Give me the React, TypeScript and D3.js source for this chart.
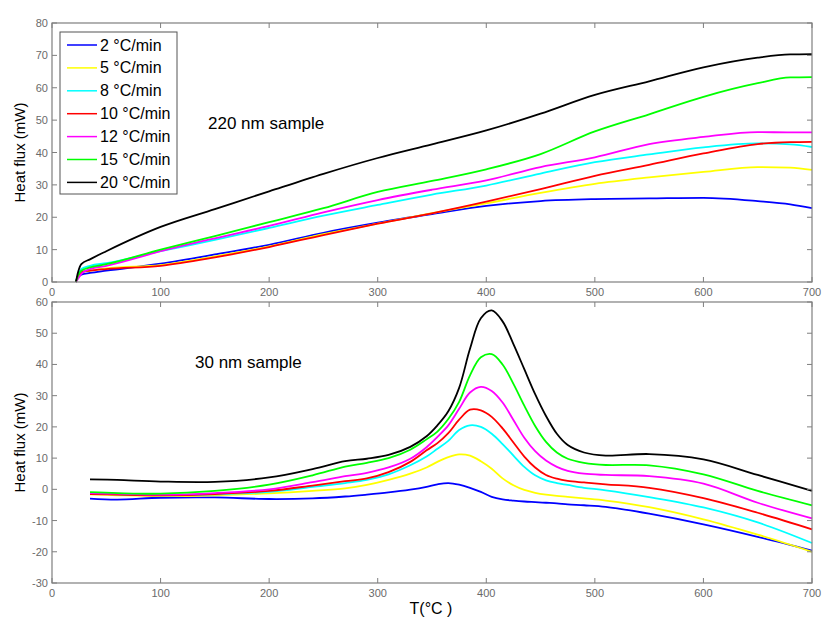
import React from "react";
import * as d3 from "d3";

// ---------- data ----------
const rateLabels = ["2 °C/min", "5 °C/min", "8 °C/min", "10 °C/min", "12 °C/min", "15 °C/min", "20 °C/min"];
const seriesColors = ["#0000ff", "#ffff00", "#00ffff", "#ff0000", "#ff00ff", "#00ff00", "#000000"];

const xTicks = [0, 100, 200, 300, 400, 500, 600, 700];
const yTicksTop = [0, 10, 20, 30, 40, 50, 60, 70, 80];
const yTicksBottom = [-30, -20, -10, 0, 10, 20, 30, 40, 50, 60];

// 220 nm sample
const tempTop = [22, 24, 27, 35, 50, 100, 150, 200, 250, 300, 350, 400, 450, 500, 550, 600, 650, 680, 700];
const top2 = [0, 1.5, 2.3, 2.8, 3.5, 5.7, 8.5, 11.5, 15.2, 18.3, 21, 23.5, 25, 25.6, 25.8, 26, 25, 24, 22.8];
const top5 = [0, 1.5, 3, 3.5, 4.2, 5.2, 7.9, 11, 14.8, 18, 21.3, 24.3, 27.5, 30.3, 32.3, 34, 35.5, 35.3, 34.6];
const top8 = [0, 2, 4, 5, 5.8, 9.5, 13, 16.7, 20.5, 23.8, 27, 29.8, 33.5, 37, 39.4, 41.6, 42.8, 42.5, 41.7];
const top10 = [0, 1.5, 3, 3.5, 4, 5, 7.6, 10.8, 14.5, 18, 21.2, 24.8, 28.7, 32.8, 36.2, 39.7, 42.6, 43.2, 43.3];
const top12 = [0, 1, 2.5, 4, 5, 9.5, 13.5, 17.3, 21.5, 25.3, 28.5, 31.4, 35.5, 38.5, 42.6, 44.8, 46.3, 46.2, 46.2];
const top15 = [0, 2, 3.5, 4.5, 5.5, 10, 14.2, 18.5, 22.8, 27.8, 31.2, 34.8, 39.5, 46.5, 51.8, 57.2, 61.4, 63.2, 63.3];
const top20 = [0, 3, 5.5, 7, 9.5, 17, 22.5, 28, 33.4, 38.3, 42.5, 46.8, 52, 57.8, 62, 66.3, 69.3, 70.3, 70.4];

// 30 nm sample
const tempBottom = [35, 60, 100, 150, 200, 240, 270, 290, 310, 330, 345, 355, 365, 375, 385, 395, 405, 415, 425, 435, 445, 455, 465, 475, 490, 510, 550, 600, 650, 700];
const bot2 = [-3, -3.3, -2.7, -2.6, -3.1, -2.9, -2.3, -1.7, -1, -0.1, 0.8, 1.6, 2, 1.5, 0.5, -0.8, -2.4, -3.2, -3.6, -3.9, -4.1, -4.3, -4.5, -4.8, -5.1, -5.6, -7.8, -11.2, -15.2, -19.6];
const bot5 = [-1.6, -1.9, -2.2, -1.9, -1.3, -0.5, 0.3, 1.4, 3, 5, 7, 8.8, 10.3, 11.2, 10.8, 9, 6.6, 3.5, 1.3, -0.2, -1.1, -1.7, -2.1, -2.4, -2.9, -3.6, -5.7, -9.6, -14.5, -20];
const bot8 = [-1.4, -1.6, -1.9, -1.6, -0.8, 0.8, 2, 3, 4.8, 7.7, 10.5, 13, 15.5, 19, 20.5, 20, 17.8, 14.5, 10.8, 7.2, 4.5, 2.9, 2, 1.4, 0.5, -0.3, -2.5, -5.8, -10.6, -17.2];
const bot10 = [-1.5, -1.7, -1.9, -1.5, -0.5, 1.2, 2.6, 3.5, 5.5, 8.8, 12.5, 14.8, 18, 22.3, 25.5, 25.3, 23.2, 19.5, 15, 10.5, 7, 4.6, 3.4, 2.7, 2.2, 1.6, 0.5, -2.8, -7.5, -12.8];
const bot12 = [-1.2, -1.4, -1.7, -1.2, 0, 2.3, 4.2, 5.3, 7, 9.8, 13.5, 16.8, 20.5, 25.8, 31, 32.8, 31.5, 27.8, 22.2, 16.5, 12.2, 9.2, 7.2, 5.9, 5, 4.6, 4.2, 1.8, -4.3, -9.3];
const bot15 = [-0.9, -1.2, -1.4, -0.5, 1.5, 4.5, 7.3, 8.5, 10, 12.7, 16, 18.5, 22.5, 28, 36.5, 42.3, 43.3, 40, 33.8, 26.8, 20.3, 15.2, 11.8, 9.8, 8.5, 7.8, 7.7, 4.8, -0.5, -5.1];
const bot20 = [3.2, 3, 2.5, 2.4, 3.8, 6.5, 9, 9.8, 11, 13.6, 17, 20.5, 25, 32.5, 45, 54.8, 57.3, 53.8, 46.5, 38.5, 30.5, 23.5, 17.8, 14.2, 11.8, 10.8, 11.3, 9.6, 4.6, -0.5];

const topSeries = [top2, top5, top8, top10, top12, top15, top20];
const bottomSeries = [bot2, bot5, bot8, bot10, bot12, bot15, bot20];

// ---------- layout ----------
const W = 824;
const H = 617;
const x = d3.scaleLinear().domain([0, 700]).range([52, 812]);
const yTop = d3.scaleLinear().domain([0, 80]).range([282, 23]);
const yBot = d3.scaleLinear().domain([-30, 60]).range([583, 302]);

const axisColor = "#7f7f7f";
const tickTextColor = "#6a6a6a";
const font = "Liberation Sans, Arial, sans-serif";
const TL = 5;

function Panel({ y, yTicks, temps, series, label, labelX, labelY, curve }: any) {
  const [x0, x1] = x.range();
  const [yb, yt] = y.range();
  const line = (vals: number[]) =>
    d3
      .line<number>()
      .x((_, i) => x(temps[i]))
      .y((v) => y(v))
      .curve(curve)(vals) || "";
  return (
    <g>
      {series.map((vals: number[], i: number) => (
        <path key={i} d={line(vals)} fill="none" stroke={seriesColors[i]} strokeWidth={1.8} strokeLinejoin="round" />
      ))}
      <rect x={x0} y={yt} width={x1 - x0} height={yb - yt} fill="none" stroke={axisColor} strokeWidth={1.2} />
      {xTicks.map((t) => (
        <g key={"x" + t}>
          <line x1={x(t)} x2={x(t)} y1={yb} y2={yb - TL} stroke={axisColor} />
          <line x1={x(t)} x2={x(t)} y1={yt} y2={yt + TL} stroke={axisColor} />
          <text x={x(t)} y={yb + 14} textAnchor="middle" fontSize={11} fill={tickTextColor} fontFamily={font}>
            {t}
          </text>
        </g>
      ))}
      {yTicks.map((t: number) => (
        <g key={"y" + t}>
          <line x1={x0} x2={x0 + TL} y1={y(t)} y2={y(t)} stroke={axisColor} />
          <line x1={x1} x2={x1 - TL} y1={y(t)} y2={y(t)} stroke={axisColor} />
          <text x={48} y={y(t) + 4} textAnchor="end" fontSize={11} fill={tickTextColor} fontFamily={font}>
            {t}
          </text>
        </g>
      ))}
      <text
        transform={`translate(25,${(yb + yt) / 2}) rotate(-90)`}
        textAnchor="middle"
        fontSize={15}
        fill="#000"
        fontFamily={font}
      >
        Heat flux (mW)
      </text>
      <text x={labelX} y={labelY} fontSize={17} fill="#000" fontFamily={font}>
        {label}
      </text>
    </g>
  );
}

export default function App() {
  const lgX = 60;
  const lgY = 32;
  const lgStep = 22.9;
  return (
    <svg width={W} height={H} style={{ position: "absolute", left: 0, top: 0, background: "#fff" }}>
      <rect x={0} y={0} width={W} height={H} fill="#fff" />
      <Panel
        y={yTop}
        yTicks={yTicksTop}
        temps={tempTop}
        series={topSeries}
        label="220 nm sample"
        labelX={208}
        labelY={129}
        curve={d3.curveMonotoneX}
      />
      <Panel
        y={yBot}
        yTicks={yTicksBottom}
        temps={tempBottom}
        series={bottomSeries}
        label="30 nm sample"
        labelX={195}
        labelY={368}
        curve={d3.curveCatmullRom.alpha(0.5)}
      />
      <g>
        <rect x={lgX} y={lgY} width={117} height={162} fill="#fff" stroke="#555" strokeWidth={1} />
        {rateLabels.map((lab, i) => {
          const yy = lgY + 13 + i * lgStep;
          return (
            <g key={lab}>
              <line x1={lgX + 7} x2={lgX + 37} y1={yy} y2={yy} stroke={seriesColors[i]} strokeWidth={1.5} />
              <text x={lgX + 40} y={yy + 5.5} fontSize={16} fill="#000" fontFamily={font}>
                {lab}
              </text>
            </g>
          );
        })}
      </g>
      <text x={431} y={614} textAnchor="middle" fontSize={16} fill="#000" fontFamily={font}>
        T(°C )
      </text>
    </svg>
  );
}
